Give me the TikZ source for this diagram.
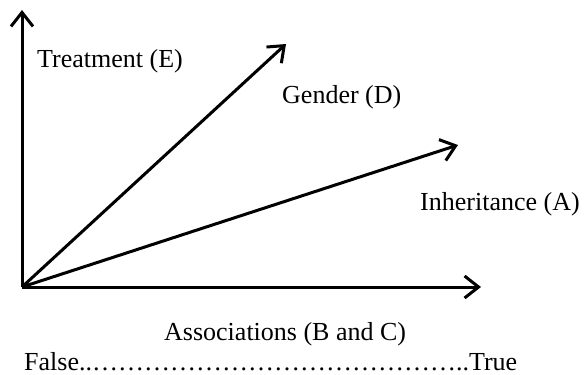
\documentclass[tikz,border=0pt]{standalone}
\usepackage{fontspec}
\setmainfont{Liberation Serif}
\usetikzlibrary{arrows.meta}
\begin{document}
\begin{tikzpicture}[x=1pt,y=-1pt,
  axis/.style={line width=3pt,-{Straight Barb[length=14pt,width=22pt,line width=3pt]}},
  lbl/.style={anchor=base west,inner sep=0pt,font=\fontsize{26}{30}\selectfont}]
\useasboundingbox (0,0) rectangle (584,375);
\coordinate (O) at (22,287);
\coordinate (Ytip) at (22,10);
\coordinate (Xtip) at (481,287);
\coordinate (Dtip) at (286,44);
\coordinate (Atip) at (458,145);
\draw[axis] (O) -- (Ytip);
\draw[axis] (O) -- (Xtip);
\draw[axis] (O) -- (Dtip);
\draw[axis] (O) -- (Atip);
\node[lbl] (E) at (37,67) {Treatment (E)};
\node[lbl] (D) at (282,103) {Gender (D)};
\node[lbl] (A) at (420,210) {Inheritance (A)};
\node[lbl] (BC) at (164,340) {Associations (B and C)};
\node[lbl] (FT) at (24,370) {False..……………………………………..True};
\end{tikzpicture}
\end{document}
